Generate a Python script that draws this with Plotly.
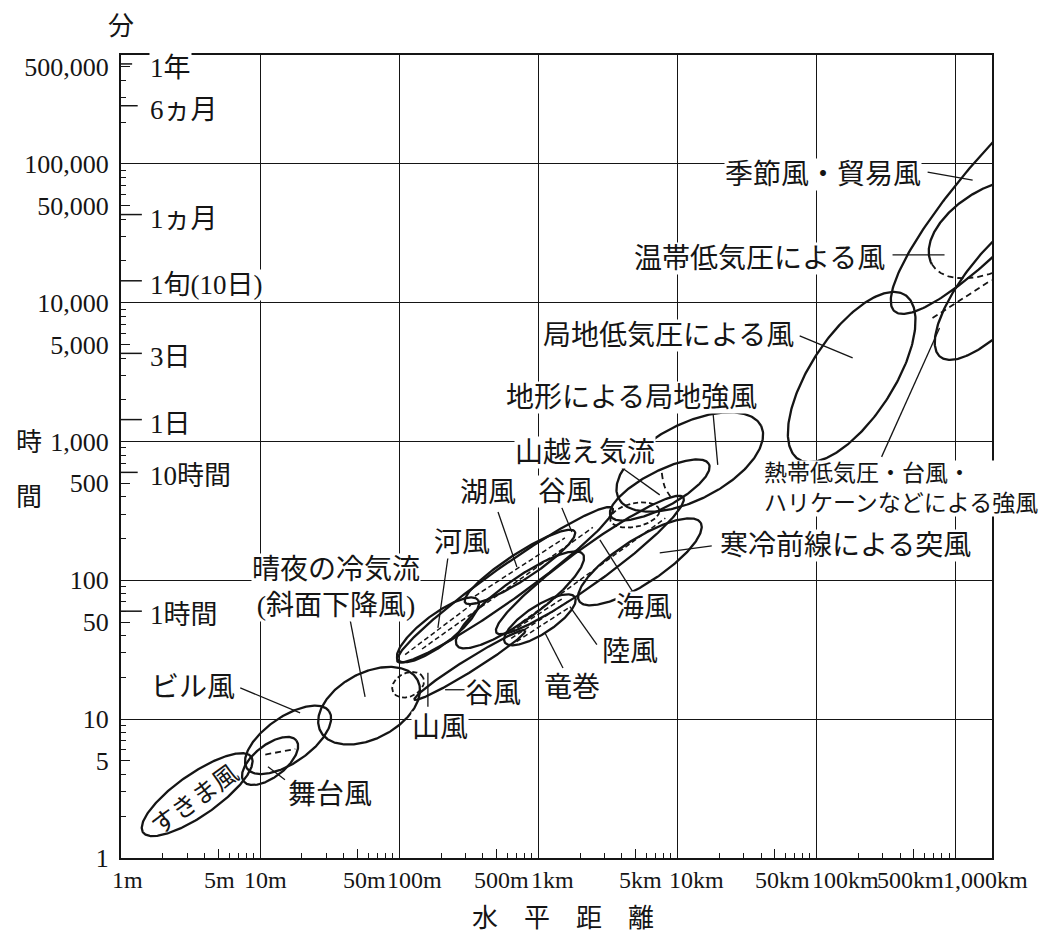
import numpy as np
import plotly.graph_objects as go

# ---------------------------------------------------------------
# Space-time scales of winds: horizontal distance (m) vs. time (min)
# ---------------------------------------------------------------

# Each wind regime is an ellipse on the log-log plane:
# centre (distance in m, time in min), half-axes in decades, tilt in degrees.
region_names = ["すきま風", "舞台風", "ビル風", "晴夜の冷気流", "山風", "河風", "湖風",
                "谷風", "陸風", "竜巻", "海風", "谷風(下)", "寒冷前線による突風",
                "山越え気流", "山越え気流(内)", "地形による局地強風", "局地低気圧による風",
                "季節風・貿易風", "温帯低気圧による風", "熱帯低気圧"]
center_dist_m = [3.53, 11.8, 15.9, 60.8, 116, 190, 577, 739, 739, 1028, 2352, 323,
                 5383, 7480, 4950, 12300, 179500, 2.66e6, 1.91e6, 2.25e6]
center_time_min = [2.86, 5.0, 7.1, 12.5, 17.7, 44, 92.9, 125, 72.4, 52, 129, 24.6,
                   136, 448, 296, 713, 2918, 79000, 34500, 14560]
half_major_dec = [0.475, 0.24, 0.36, 0.395, 0.12, 0.36, 0.95, 0.47, 0.56, 0.30, 0.83, 0.47,
                  0.52, 0.40, 0.18, 0.575, 0.705, 1.29, 0.52, 0.72]
half_minor_dec = [0.15, 0.115, 0.165, 0.237, 0.085, 0.11, 0.12, 0.095, 0.145, 0.10, 0.13, 0.045,
                  0.16, 0.13, 0.085, 0.275, 0.30, 0.29, 0.29, 0.25]
tilt_deg = [35, 38, 35, 28, 25, 37, 35.5, 33, 36, 33, 36, 32,
            33, 28, 12, 27, 57, 48, 30, 50]

# Extra dashed boundaries inside some regions (distance m, time min)
dashed_dist_m = [[10.9, 17.9], [7740, 8130, 9290], [684000, 1.82e6]]
dashed_time_min = [[5.56, 6.1], [594, 471, 380], [7760, 14590]]

# Region labels
label_text = ["すきま風", "舞台風", "ビル風", "晴夜の冷気流<br>(斜面下降風)", "河風", "湖風", "谷風",
              "山越え気流", "地形による局地強風", "局地低気圧による風", "温帯低気圧による風",
              "季節風・貿易風", "熱帯低気圧・台風・<br>ハリケーンなどによる強風", "寒冷前線による突風",
              "海風", "陸風", "竜巻", "谷風", "山風"]
label_dist_m = [3.42, 31.9, 3.31, 35.2, 283, 435, 1581, 2166, 4710, 8690, 39150,
                111000, 41120, 162300, 5745, 4560, 1747, 473, 197]
label_time_min = [2.63, 2.86, 16.8, 88.3, 186, 427, 434, 828, 2095, 5850, 20990,
                  84500, 463, 177, 63.4, 30.6, 16.8, 15.2, 8.67]

# Leader lines from labels to regions
leader_dist_m = [[15.1, 11.4], [7.2, 19.4], [44.4, 56.9], [224, 190], [514, 703],
                 [1479, 1747], [3993, 7480], [18000, 19540], [75900, 182400],
                 [353000, 835000], [631000, 1.33e6], [294500, 769000], [7480, 17700],
                 [4790, 2775], [2642, 1690], [1507, 1117], [214, 303], [161, 161]]
leader_time_min = [[3.66, 4.55], [16.8, 11.1], [52.0, 14.5], [145, 45.5], [311, 125],
                   [333, 223], [647, 413], [1690, 679], [5770, 4006],
                   [22130, 22130], [87300, 76400], [776, 6590], [158, 177],
                   [82.7, 196], [34.4, 64.6], [23.4, 41.9], [16.3, 16.3], [21.6, 12.3]]

# Named time marks along the time axis (minutes)
time_mark_text = ["1年", "6ヵ月", "1ヵ月", "1旬(10日)", "3日", "1日", "10時間", "1時間"]
time_mark_min = [525600, 262800, 43200, 14400, 4320, 1440, 600, 60]

# Axis tick labels
xtick_val = [1, 5, 10, 50, 100, 500, 1e3, 5e3, 1e4, 5e4, 1e5, 5e5, 1e6]
xtick_text = ["1m", "5m", "10m", "50m", "100m", "500m", "1km", "5km", "10km",
              "50km", "100km", "500km", "1,000km"]
ytick_val = [1, 5, 10, 50, 100, 500, 1e3, 5e3, 1e4, 5e4, 1e5, 5e5]
ytick_text = ["1", "5", "10", "50", "100", "500", "1,000", "5,000", "10,000",
              "50,000", "100,000", "500,000"]

# ---------------- styling ----------------
INK = "#151515"
SERIF = "Liberation Serif, Noto Sans CJK JP"
XMAX = 6.263   # log10 of right edge (m)
YMAX = 5.785   # log10 of top edge (min)

region_style = {
    "山風": {"dash": "5px,3px"},
    "山越え気流(内)": {"dash": "5px,3px"},
    "温帯低気圧による風": {"split": True},
    "河風": {"inner": [0.0]},
    "湖風": {"inner": [-0.25]},
    "谷風": {"inner": [0.0]},
    "竜巻": {"inner": [-0.4, 0.0, 0.4]},
    "海風": {"inner": [-0.35]},
}
label_style = {
    0: {"textangle": -36, "size": 25, "bg": None},
    12: {"size": 23, "xanchor": "left", "align": "left"},
}
LABEL_SIZE = 28
xtick_shift = [6, 1, 5, 7, 15, 5, 14, 5, 19, 8, 29, -3, 30]
mark_len_dec = [0.08, 0.12, 0.15, 0.15, 0.15, 0.15, 0.12, 0.15]


def ellipse_pts(cx, cy, a, b, th, t0=0.0, t1=2 * np.pi, n=260):
    t = np.linspace(t0, t1, n)
    c, s = np.cos(np.radians(th)), np.sin(np.radians(th))
    lx = np.log10(cx) + a * np.cos(t) * c - b * np.sin(t) * s
    ly = np.log10(cy) + a * np.cos(t) * s + b * np.sin(t) * c
    return 10 ** lx, 10 ** ly


def chord_pts(cx, cy, a, b, th, f):
    k = 0.82 * np.sqrt(1 - f * f)
    u = np.array([-k * a, k * a])
    v = np.array([f * b, f * b])
    c, s = np.cos(np.radians(th)), np.sin(np.radians(th))
    lx = np.log10(cx) + u * c - v * s
    ly = np.log10(cy) + u * s + v * c
    return 10 ** lx, 10 ** ly


fig = go.Figure()

solid = dict(color=INK, width=2.3)
for i, name in enumerate(region_names):
    cx, cy = center_dist_m[i], center_time_min[i]
    a, b, th = half_major_dec[i], half_minor_dec[i], tilt_deg[i]
    st = region_style.get(name, {})
    if st.get("split"):
        x, y = ellipse_pts(cx, cy, a, b, th, 0, np.pi)
        fig.add_trace(go.Scatter(x=x, y=y, mode="lines", line=solid, hoverinfo="skip"))
        x, y = ellipse_pts(cx, cy, a, b, th, np.pi, 2 * np.pi)
        fig.add_trace(go.Scatter(x=x, y=y, mode="lines",
                                 line=dict(color=INK, width=1.8, dash="6px,4px"),
                                 hoverinfo="skip"))
    else:
        x, y = ellipse_pts(cx, cy, a, b, th)
        ln = dict(solid)
        if "dash" in st:
            ln = dict(color=INK, width=1.8, dash=st["dash"])
        fig.add_trace(go.Scatter(x=x, y=y, mode="lines", line=ln, hoverinfo="skip"))
    for f in st.get("inner", []):
        x, y = chord_pts(cx, cy, a, b, th, f)
        fig.add_trace(go.Scatter(x=x, y=y, mode="lines",
                                 line=dict(color=INK, width=1.5, dash="5px,3px"),
                                 hoverinfo="skip"))

for xs, ys in zip(dashed_dist_m, dashed_time_min):
    fig.add_trace(go.Scatter(x=xs, y=ys, mode="lines", line_shape="spline",
                             line=dict(color=INK, width=1.8, dash="6px,4px"),
                             hoverinfo="skip"))

for xs, ys in zip(leader_dist_m, leader_time_min):
    fig.add_trace(go.Scatter(x=xs, y=ys, mode="lines",
                             line=dict(color=INK, width=1.3), hoverinfo="skip"))

# named time marks drawn on the overlay axes
mx, my = [], []
for t, ln in zip(time_mark_min, mark_len_dec):
    mx += [1, 10 ** ln, None]
    my += [t, t, None]
fig.add_trace(go.Scatter(x=mx, y=my, mode="lines", xaxis="x2", yaxis="y2",
                         line=dict(color=INK, width=1.5), hoverinfo="skip"))

# ---------------- annotations ----------------
ann = []
for i, (txt, d, t) in enumerate(zip(label_text, label_dist_m, label_time_min)):
    st = label_style.get(i, {})
    bg = st.get("bg", "white")
    a = dict(x=np.log10(d), y=np.log10(t), xref="x", yref="y", text=txt,
             showarrow=False,
             font=dict(family=SERIF, size=st.get("size", LABEL_SIZE), color=INK),
             xanchor=st.get("xanchor", "center"), yanchor="middle",
             align=st.get("align", "center"), borderpad=0,
             textangle=st.get("textangle", 0))
    if bg:
        a["bgcolor"] = bg
    ann.append(a)

for txt, t in zip(time_mark_text, time_mark_min):
    ann.append(dict(x=0, y=np.log10(t), xref="x", yref="y", text=txt, showarrow=False,
                    xanchor="left", yanchor="middle", xshift=28, yshift=-4,
                    font=dict(family=SERIF, size=27, color=INK), bgcolor="white",
                    borderpad=0))

for txt, v, sh in zip(xtick_text, xtick_val, xtick_shift):
    ann.append(dict(x=np.log10(v), y=0, xref="x", yref="paper", text=txt,
                    showarrow=False, xanchor="center", yanchor="top", xshift=sh,
                    yshift=-7, font=dict(family=SERIF, size=24, color=INK)))

# axis titles
ann.append(dict(x=0, y=1, xref="paper", yref="paper", text="分", showarrow=False,
                xanchor="center", yanchor="bottom", xshift=0, yshift=12,
                font=dict(family=SERIF, size=26, color=INK)))
for ch, ys in (("時", 442), ("間", 497)):
    ann.append(dict(x=0, y=1, xref="paper", yref="paper", text=ch, showarrow=False,
                    xanchor="center", yanchor="middle", xshift=-92,
                    yshift=-(ys - 55), font=dict(family=SERIF, size=26, color=INK)))
ann.append(dict(x=0.5, y=0, xref="paper", yref="paper", text="水　平　距　離",
                showarrow=False, xanchor="center", yanchor="top", yshift=-44, xshift=6,
                font=dict(family=SERIF, size=26, color=INK)))

# ---------------- axes ----------------
decades_x = [10 ** k for k in range(0, 7)]
decades_y = [10 ** k for k in range(0, 6)]
minor_x = [m * 10 ** k for k in range(0, 7) for m in (2, 3, 4, 6, 7, 8, 9)
           if np.log10(m * 10 ** k) < XMAX]
minor_y = [m * 10 ** k for k in range(0, 6) for m in (2, 3, 4, 6, 7, 8, 9)
           if np.log10(m * 10 ** k) < YMAX]

common = dict(type="log", zeroline=False, showline=True, mirror=True, linewidth=2,
              linecolor=INK)
fig.update_layout(
    width=1051, height=934,
    margin=dict(l=121, r=59, t=55, b=76),
    paper_bgcolor="white", plot_bgcolor="white", showlegend=False,
    annotations=ann,
    xaxis=dict(common, range=[0, XMAX], tickvals=xtick_val, ticks="inside", ticklen=9,
               tickwidth=1.2, tickcolor=INK, showticklabels=False, showgrid=False,
               minor=dict(tickvals=minor_x, ticks="inside", ticklen=5, tickwidth=1,
                          tickcolor=INK, showgrid=False)),
    xaxis2=dict(type="log", range=[0, XMAX], overlaying="x", anchor="y", side="bottom",
                tickvals=decades_x, ticks="", showticklabels=False, showgrid=True,
                gridcolor=INK, gridwidth=1.4, showline=False, zeroline=False),
    yaxis=dict(common, range=[0, YMAX], tickvals=ytick_val, ticktext=ytick_text,
               ticks="inside", ticklen=9, tickwidth=1.2, tickcolor=INK, showgrid=False,
               tickfont=dict(family=SERIF, size=26, color=INK), ticklabelstandoff=5,
               minor=dict(tickvals=minor_y, ticks="inside", ticklen=5, tickwidth=1,
                          tickcolor=INK, showgrid=False)),
    yaxis2=dict(type="log", range=[0, YMAX], overlaying="y", anchor="x", side="left",
                tickvals=decades_y, ticks="", showticklabels=False, showgrid=True,
                gridcolor=INK, gridwidth=1.4, showline=False, zeroline=False),
)

fig.write_html("out.html", config={"displayModeBar": False})
